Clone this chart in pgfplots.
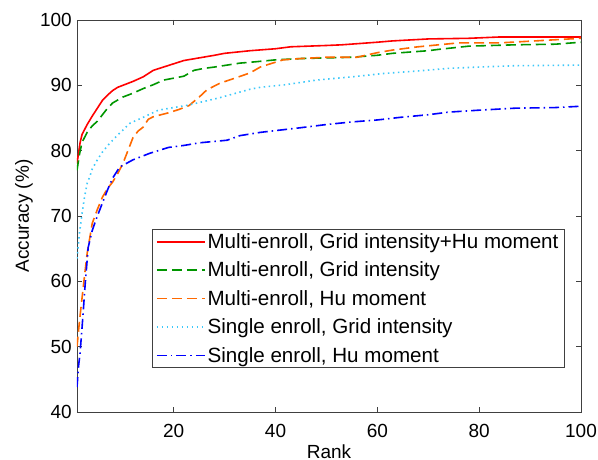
\documentclass[border=0pt]{standalone}
\usepackage{fontspec}
\setmainfont{Liberation Sans}
\usepackage{pgfplots}
\pgfplotsset{compat=1.18}

\definecolor{cRed}{RGB}{255,0,0}
\definecolor{cGreen}{RGB}{0,150,0}
\definecolor{cOrange}{RGB}{255,105,0}
\definecolor{cCyan}{RGB}{60,200,250}
\definecolor{cBlue}{RGB}{0,0,255}

\begin{document}
\begin{tikzpicture}
\useasboundingbox (-77bp,-48bp) rectangle (521bp,412bp);
\begin{axis}[
  at={(0,0)}, anchor=south west,
  scale only axis, width=504bp, height=392bp,
  xmin=1, xmax=100, ymin=40, ymax=100,
  xtick={20,40,60,80,100}, ytick={40,50,...,100},
  tick align=inside, major tick length=5bp,
  axis line style={draw=black!75, line width=0.8bp},
  every tick/.style={draw=black!75, line width=0.8bp},
  /pgf/number format/assume math mode=true,
  tick label style={font=\fontsize{19bp}{22bp}\selectfont, inner sep=0pt},
  xticklabel style={yshift=-12bp},
  yticklabel style={xshift=-5bp},
  xlabel={Rank}, ylabel={Accuracy (\%)},
  label style={font=\fontsize{19bp}{22bp}\selectfont, inner sep=0pt},
  xlabel style={at={(axis description cs:0.5,-0.082)}, anchor=north},
  ylabel style={at={(axis description cs:-0.0873,0.5)}, anchor=south},
  legend style={at={(axis description cs:0.968,0.112)}, anchor=south east,
    draw=black!75, line width=0.8bp, fill=white,
    font=\fontsize{20.6bp}{24bp}\selectfont, inner xsep=4bp, inner ysep=2bp,
    row sep=8bp, cells={anchor=west}},
  legend image code/.code={\draw[#1] (0bp,0bp) -- (48bp,0bp);},
]
\addplot[cRed, line width=1.6bp] coordinates {
(1,78.0)(1.6,81.2)(2,82.5)(3,84.0)(4,85.3)(5,86.5)(6,87.7)(7,88.5)(8,89.2)(9,89.7)
(10,90.0)(12,90.6)(14,91.3)(16,92.3)(18,92.8)(20,93.3)(22,93.8)(25,94.2)(28,94.6)
(30,94.9)(35,95.3)(40,95.6)(43,95.9)(50,96.1)(53,96.2)(60,96.6)(63,96.8)(70,97.1)
(78,97.2)(84,97.4)(100,97.4)};
\addlegendentry{Multi-enroll, Grid intensity+Hu moment}
\addplot[cGreen, line width=1.6bp, dash pattern=on 10bp off 5bp] coordinates {
(1,77.0)(1.5,79.5)(2,81.3)(3,82.8)(4,83.8)(5,84.5)(6,85.5)(7,86.5)(8,87.3)(10,88.2)
(12,88.8)(14,89.5)(16,90.1)(18,90.8)(20,91.1)(22,91.4)(24,92.3)(26,92.6)(28,92.8)
(33,93.4)(36,93.6)(40,93.9)(45,94.1)(55,94.3)(60,94.6)(63,94.9)(70,95.3)(72,95.5)
(78,96.0)(87,96.2)(95,96.3)(100,96.6)};
\addlegendentry{Multi-enroll, Grid intensity}
\addplot[cOrange, line width=1.6bp, dash pattern=on 10bp off 5bp] coordinates {
(1,50)(1.5,54)(2,57.5)(2.5,61)(3,64.3)(4,68.9)(5,71)(6,72.9)(7,74.2)(8,75.2)(9,76.5)
(10,78)(11,80)(12,82)(13,83)(14,83.6)(15,84.8)(16,85.2)(19,85.8)(21,86.3)(23,86.9)
(25,88.2)(26.5,89.3)(29,90.3)(32,91.1)(35,91.9)(37,92.8)(39,93.3)(41.5,93.9)(45,94.1)
(50,94.3)(56,94.3)(60,95.0)(63,95.4)(68,95.9)(76,96.5)(84,96.5)(91,96.8)(100,97.2)};
\addlegendentry{Multi-enroll, Hu moment}
\addplot[cCyan, line width=1.6bp, dash pattern=on 1.5bp off 3.5bp] coordinates {
(1,63.5)(1.5,67.5)(2,70.4)(2.5,73)(3,75)(3.5,76)(4,77.2)(5,78.6)(6,79.8)(7.5,81.2)
(9.4,82.7)(11.4,84.2)(14,85.1)(17,86.2)(20,86.6)(23,87.0)(29,88.1)(35,89.4)(37,89.7)
(42,90.1)(48,90.8)(55,91.3)(61,91.8)(68,92.2)(74,92.6)(80,92.8)(87,93.0)(100,93.1)};
\addlegendentry{Single enroll, Grid intensity}
\addplot[cBlue, line width=1.6bp, dash pattern=on 10bp off 4bp on 1.5bp off 4bp] coordinates {
(1,43.8)(1.3,47)(1.6,49)(2,53)(2.2,55.1)(2.6,59.5)(3.2,65.2)(4,67.8)(4.9,69.8)(6,72)
(7,74)(8,75.8)(9.4,77.5)(12,78.6)(15.3,79.6)(19,80.5)(22,80.8)(25,81.2)(30.5,81.6)
(33,82.3)(37,82.8)(44.8,83.5)(50,84.0)(55,84.4)(60,84.7)(64.5,85.1)(70,85.5)(74,85.9)
(80,86.2)(87,86.5)(95,86.6)(100,86.8)};
\addlegendentry{Single enroll, Hu moment}
\end{axis}
\end{tikzpicture}
\end{document}
